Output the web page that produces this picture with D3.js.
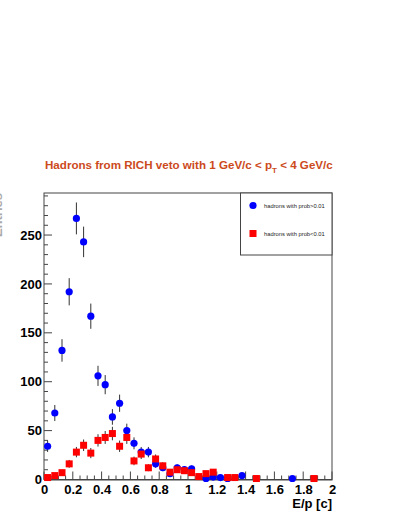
<!DOCTYPE html>
<html>
<head>
<meta charset="utf-8">
<script src="https://cdn.jsdelivr.net/npm/d3@7"></script>
<style>
  body { margin: 0; background: #fff; }
  text { font-family: "Liberation Sans", Arial, sans-serif; }
</style>
</head>
<body>
<div id="chart"></div>
<script>
// bin centers (bin width 0.05) and counts
var blueX   = [0.025, 0.075, 0.125, 0.175, 0.225, 0.275, 0.325, 0.375, 0.425, 0.475, 0.525, 0.575, 0.625, 0.675, 0.725, 0.775, 0.825, 0.875, 0.925, 0.975, 1.025, 1.125, 1.175, 1.225, 1.275, 1.375, 1.725];
var blueY   = [34, 68, 132, 192, 267, 243, 167, 106, 97, 64, 78, 50, 37, 28, 28, 16, 12, 6, 12, 10, 11, 1, 2.5, 2, 1, 4, 1];
var blueErr = [5.8, 8.2, 11.5, 13.9, 16.3, 15.6, 12.9, 10.3, 9.8, 8, 8.8, 7.1, 6.1, 5.3, 5.3, 4, 3.5, 2.4, 3.5, 3.2, 3.3, 1, 1.6, 1.4, 1, 2, 1];

var redX   = [0.025, 0.075, 0.125, 0.175, 0.225, 0.275, 0.325, 0.375, 0.425, 0.475, 0.525, 0.575, 0.625, 0.675, 0.725, 0.775, 0.825, 0.875, 0.925, 0.975, 1.025, 1.075, 1.125, 1.175, 1.275, 1.325, 1.475, 1.875];
var redY   = [2, 4, 7, 16, 28, 35, 27, 40, 43, 47, 34, 43, 19, 26, 12, 21, 14, 7.5, 10, 9, 7, 3, 6, 7.5, 2, 2, 1, 1];
var redErr = [1.4, 2, 2.6, 4, 5.3, 5.9, 5.2, 6.3, 6.6, 6.9, 5.8, 6.6, 4.4, 5.1, 3.5, 4.6, 3.7, 2.7, 3.2, 3, 2.6, 1.7, 2.4, 2.7, 1.4, 1.4, 1, 1];

var xTicks = [0, 0.2, 0.4, 0.6, 0.8, 1, 1.2, 1.4, 1.6, 1.8, 2];
var yTicks = [0, 50, 100, 150, 200, 250];

var title = "Hadrons from RICH veto with 1 GeV/c < p";
var legendLabels = ["hadrons with prob>0.01", "hadrons with prob<0.01"];

var width = 399;
var height = 516;

var marginTop = 193;
var marginRight = 67;
var marginBottom = 36;
var marginLeft = 44;

const svg = d3.select("#chart").append("svg")
    .attr("width", width)
    .attr("height", height);

var x = d3.scaleLinear()
    .domain([0, 2])
    .range([marginLeft, width - marginRight]);

var y = d3.scaleLinear()
    .domain([0, 293])
    .range([height - marginBottom - 0.5, marginTop]);

// title
var t = svg.append("text")
    .attr("x", 45)
    .attr("y", 169)
    .attr("fill", "#cc4a1c")
    .attr("font-weight", "bold")
    .attr("font-size", 11.6)
    .text(title);
t.append("tspan").attr("font-size", 8).attr("dy", 3.5).text("T");
t.append("tspan").attr("dy", -3.5).text(" < 4 GeV/c");

// clipped y-axis title at the left edge
svg.append("text")
    .attr("transform", "translate(1.5,193) rotate(-90)")
    .attr("text-anchor", "end")
    .attr("fill", "#aaa")
    .attr("font-weight", "bold")
    .attr("font-size", 13)
    .text("Entries");

// frame
svg.append("rect")
    .attr("x", x(0))
    .attr("y", marginTop)
    .attr("width", x(2) - x(0))
    .attr("height", y(0) - marginTop)
    .attr("fill", "none")
    .attr("stroke", "#444")
    .attr("stroke-width", 1);

// x axis, ticks pointing inward
var xMinor = d3.range(0, 2.0001, 0.05);
const gx = svg.append("g")
    .attr("transform", `translate(0,${y(0)})`);
gx.selectAll("line")
    .data(xMinor)
    .join("line")
    .attr("x1", d => x(d))
    .attr("x2", d => x(d))
    .attr("y1", 0)
    .attr("y2", (d, i) => i % 4 == 0 ? -8 : -4)
    .attr("stroke", "#444");
gx.call(d3.axisBottom(x).tickValues(xTicks).tickSize(0).tickPadding(5).tickFormat(d3.format("")))
    .call(g => g.select(".domain").attr("stroke", "#444"))
    .selectAll("text")
    .attr("font-size", 13)
    .attr("font-weight", "bold")
    .attr("fill", "#000")
    .attr("font-family", "Liberation Sans, Arial, sans-serif");

svg.append("text")
    .attr("x", x(2))
    .attr("y", 508)
    .attr("text-anchor", "end")
    .attr("font-weight", "bold")
    .attr("font-size", 13)
    .text("E/p [c]");

// y axis
var yMinor = d3.range(0, 291, 10);
const gy = svg.append("g")
    .attr("transform", `translate(${x(0)},0)`);
gy.selectAll("line")
    .data(yMinor)
    .join("line")
    .attr("x1", 0)
    .attr("x2", (d, i) => i % 5 == 0 ? 8 : 4)
    .attr("y1", d => y(d))
    .attr("y2", d => y(d))
    .attr("stroke", "#444");
gy.call(d3.axisLeft(y).tickValues(yTicks).tickSize(0).tickPadding(2))
    .call(g => g.select(".domain").remove())
    .selectAll("text")
    .attr("font-size", 13)
    .attr("font-weight", "bold")
    .attr("fill", "#000")
    .attr("font-family", "Liberation Sans, Arial, sans-serif");

// data: error bars then markers
const plot = svg.append("g");

plot.selectAll(".eb")
    .data(blueX.map((d, i) => [d, blueY[i], blueErr[i]]))
    .join("line")
    .attr("x1", d => x(d[0]))
    .attr("x2", d => x(d[0]))
    .attr("y1", d => y(Math.max(0, d[1] - d[2])))
    .attr("y2", d => y(d[1] + d[2]))
    .attr("stroke", "#333")
    .attr("stroke-width", 1);

plot.selectAll(".er")
    .data(redX.map((d, i) => [d, redY[i], redErr[i]]))
    .join("line")
    .attr("x1", d => x(d[0]))
    .attr("x2", d => x(d[0]))
    .attr("y1", d => y(Math.max(0, d[1] - d[2])))
    .attr("y2", d => y(d[1] + d[2]))
    .attr("stroke", "#333")
    .attr("stroke-width", 1);

plot.selectAll("circle")
    .data(blueX.map((d, i) => [d, blueY[i]]))
    .join("circle")
    .attr("cx", d => x(d[0]))
    .attr("cy", d => y(d[1]))
    .attr("r", 3.6)
    .attr("fill", "#0000ff");

plot.selectAll("rect")
    .data(redX.map((d, i) => [d, redY[i]]))
    .join("rect")
    .attr("x", d => x(d[0]) - 3.5)
    .attr("y", d => y(d[1]) - 3.5)
    .attr("width", 7)
    .attr("height", 7)
    .attr("fill", "#ff0000");

// legend
const lg = svg.append("g");
lg.append("rect")
    .attr("x", 240.5)
    .attr("y", marginTop)
    .attr("width", x(2) - 240.5)
    .attr("height", 62)
    .attr("fill", "#fff")
    .attr("stroke", "#444");
lg.append("circle")
    .attr("cx", 253).attr("cy", 205.5).attr("r", 3.6).attr("fill", "#0000ff");
lg.append("rect")
    .attr("x", 249.5).attr("y", 230).attr("width", 7).attr("height", 7).attr("fill", "#ff0000");
lg.selectAll("text")
    .data(legendLabels)
    .join("text")
    .attr("x", 264)
    .attr("y", (d, i) => 207.5 + i * 28)
    .attr("font-size", 5.8)
    .attr("fill", "#222")
    .text(d => d);
</script>
</body>
</html>
